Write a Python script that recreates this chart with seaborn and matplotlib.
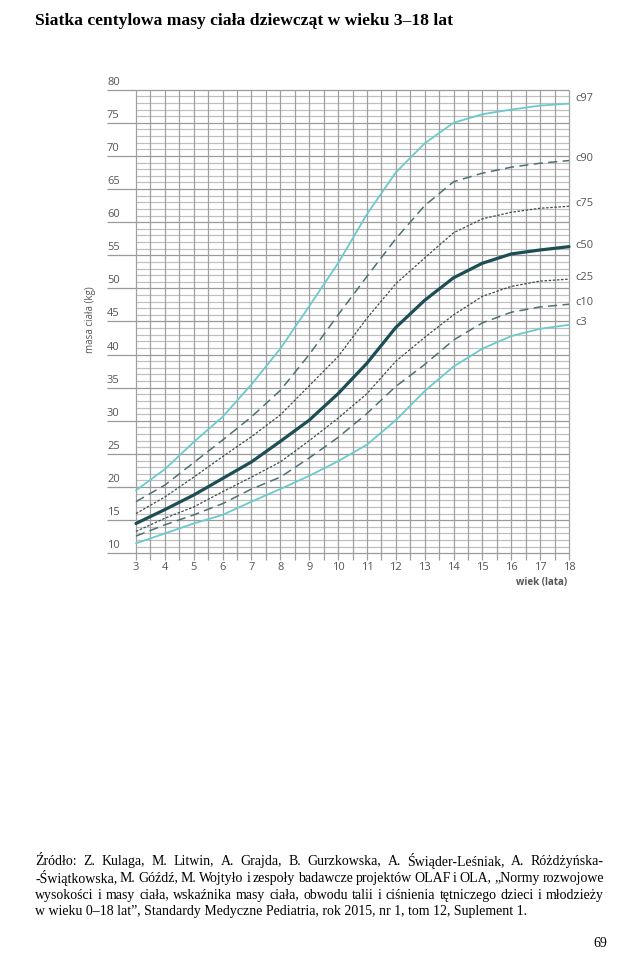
import numpy as np
import pandas as pd
import matplotlib
matplotlib.use("Agg")
import matplotlib.pyplot as plt
import seaborn as sns

# ---------------- data ----------------
ages = [3, 4, 5, 6, 7, 8, 9, 10, 11, 12, 13, 14, 15, 16, 17, 18]
c97 = [19.5, 22.7, 26.8, 30.6, 35.5, 40.9, 47.3, 53.8, 61.2, 67.5, 71.9, 75.0, 76.3, 77.0, 77.6, 77.9]
c90 = [17.8, 20.3, 23.7, 27.1, 30.6, 34.6, 40.0, 46.0, 51.8, 57.5, 62.5, 66.1, 67.4, 68.3, 68.9, 69.3]
c75 = [16.0, 18.5, 21.5, 24.6, 27.6, 30.9, 35.3, 39.7, 45.5, 50.7, 54.6, 58.4, 60.5, 61.5, 62.1, 62.4]
c50 = [14.5, 16.6, 18.8, 21.3, 23.8, 26.9, 30.1, 34.1, 38.7, 44.1, 48.2, 51.6, 53.8, 55.2, 55.8, 56.3]
c25 = [13.3, 15.3, 17.0, 19.3, 21.5, 23.8, 27.0, 30.4, 34.1, 39.0, 42.6, 46.0, 48.8, 50.3, 51.1, 51.4]
c10 = [12.6, 14.3, 15.8, 17.5, 19.7, 21.5, 24.4, 27.5, 31.1, 35.2, 38.5, 42.2, 44.8, 46.4, 47.2, 47.6]
c3 = [11.5, 13.0, 14.5, 15.8, 17.8, 19.7, 21.7, 23.9, 26.4, 30.1, 34.5, 38.2, 40.9, 42.8, 43.9, 44.5]
centile_names = ["c97", "c90", "c75", "c50", "c25", "c10", "c3"]
centile_values = [c97, c90, c75, c50, c25, c10, c3]
x_ticks = list(range(3, 19))
y_ticks = list(range(10, 81, 5))

title = "Siatka centylowa masy ciała dziewcząt w wieku 3–18 lat"
x_label = "wiek (lata)"
y_label = "masa ciała (kg)"
footer_lines = [
    "Źródło: Z. Kulaga, M. Litwin, A. Grajda, B. Gurzkowska, A. Świąder-Leśniak, A. Różdżyńska-",
    "-Świątkowska, M. Góźdź, M. Wojtyło i zespoły badawcze projektów OLAF i OLA, „Normy rozwojowe",
    "wysokości i masy ciała, wskaźnika masy ciała, obwodu talii i ciśnienia tętniczego dzieci i młodzieży",
    "w wieku 0–18 lat”, Standardy Medyczne Pediatria, rok 2015, nr 1, tom 12, Suplement 1.",
]
page_no = "69"

# ---------------- styles ----------------
CYAN = "#6ccacd"
DARK = "#1d4e55"
DASH = "#4d7175"
DOT = "#3c4d50"
styles = {
    "c97": dict(color=CYAN, lw=1.3, ls="-"),
    "c90": dict(color=DASH, lw=1.1, ls=(0, (6, 3.5))),
    "c75": dict(color=DOT, lw=0.9, ls=(0, (2, 1.3))),
    "c50": dict(color=DARK, lw=2.3, ls="-"),
    "c25": dict(color=DOT, lw=0.9, ls=(0, (2, 1.3))),
    "c10": dict(color=DASH, lw=1.1, ls=(0, (6, 3.5))),
    "c3": dict(color=CYAN, lw=1.3, ls="-"),
}
label_offsets = {"c97": 0.8, "c90": 0.3, "c75": 0.4, "c50": 0.1, "c25": 0.3, "c10": 0.2, "c3": 0.3}

W, H = 633, 972
sns.set_theme(style="white")
plt.rcParams["font.family"] = ["Open Sans", "DejaVu Sans"]

fig = plt.figure(figsize=(W / 100, H / 100), dpi=100)
fig.patch.set_facecolor("white")

def fx(px):
    return px / W

def fy(py):
    return 1 - py / H

ax_l, ax_r, ax_t, ax_b = 136, 569, 89.7, 553.3
ax = fig.add_axes([fx(ax_l), fy(ax_b), (ax_r - ax_l) / W, (ax_b - ax_t) / H])
ax.set_xlim(3, 18)
ax.set_ylim(10, 80)
for s in ax.spines.values():
    s.set_visible(False)
ax.set_xticks([])
ax.set_yticks([])
ax.set_facecolor("white")

kg_per_px = 70 / (ax_b - ax_t)
yr_per_px = 15 / (ax_r - ax_l)

# grid
minor_y = [v for v in range(10, 81) if v % 5 != 0]
ax.hlines(minor_y, 3, 18, color="#c0c0c0", lw=0.9, zorder=1)
ax.hlines(y_ticks, 3 - 29 * yr_per_px, 18, color="#9a9a9a", lw=0.9, zorder=1.1, clip_on=False)
ax.vlines(np.arange(3, 18.01, 0.5), 10 - 7 * kg_per_px, 80, color="#a0a0a0", lw=0.9, zorder=1.2, clip_on=False)

# curves
for name, vals in zip(centile_names, centile_values):
    st = styles[name]
    sns.lineplot(x=ages, y=vals, ax=ax, color=st["color"], linewidth=st["lw"],
                 linestyle=st["ls"], zorder=3, clip_on=False)
    ax.text(18 + 6 * yr_per_px, vals[-1] + label_offsets[name], name, fontsize=8,
            color="#555555", ha="left", va="center")

# y tick labels (above lines)
for v in y_ticks:
    ax.text(3 - 29 * yr_per_px, v + 2 * kg_per_px, str(v), fontsize=8, color="#555555",
            ha="left", va="bottom")
# x tick labels
for v in x_ticks:
    ax.text(v, 10 - 14 * kg_per_px, str(v), fontsize=8, color="#555555", ha="center", va="center")

ax.text(17.05, 10 - 29 * kg_per_px, x_label, fontsize=7, color="#555555", ha="center",
        va="center", fontweight="bold")
fig.text(fx(91), fy(320), y_label, fontsize=7, color="#555555", rotation=90,
         ha="center", va="center")

# title
fig.text(fx(35), fy(21), title, fontsize=12.6, fontweight="bold", family="Liberation Serif",
         ha="left", va="center", color="black")

# footer, justified
renderer = fig.canvas.get_renderer()
left, right = 35, 604
ys = [861, 878, 895, 912]
for i, (line, yp) in enumerate(zip(footer_lines, ys)):
    if i == len(footer_lines) - 1:
        fig.text(fx(left), fy(yp), line, fontsize=10, family="Liberation Serif",
                 ha="left", va="center", color="black")
        continue
    words = line.split(" ")
    texts = [fig.text(0, fy(yp), w, fontsize=10, family="Liberation Serif",
                      ha="left", va="center", color="black") for w in words]
    widths = [t.get_window_extent(renderer).width for t in texts]
    gap = (right - left - sum(widths)) / (len(words) - 1)
    xpos = left
    for t, w in zip(texts, widths):
        t.set_x(fx(xpos))
        xpos += w + gap

fig.text(fx(607), fy(943), page_no, fontsize=10, family="Liberation Serif",
         ha="right", va="center", color="black")

fig.savefig("out.png", dpi=100, facecolor="white")
